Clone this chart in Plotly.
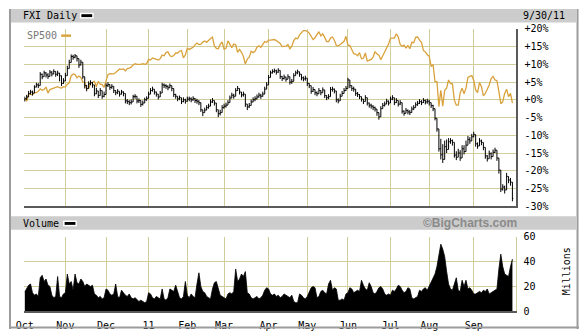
import pandas as pd
import plotly.graph_objects as go

# ---------------- data ----------------
holidays = ["2010-11-25", "2010-12-24", "2011-01-17", "2011-02-21",
            "2011-04-22", "2011-05-30", "2011-07-04", "2011-09-05"]
dates = [d for d in pd.bdate_range("2010-10-01", "2011-09-30")
         if d.strftime("%Y-%m-%d") not in holidays]

month_labels = ["Oct", "Nov", "Dec", "11", "Feb", "Mar", "Apr", "May", "Jun", "Jul", "Aug", "Sep"]

# FXI daily, % change vs 9/30/10
fxi_close = [
    0.3, 0.8, 1.8, 2.2, 1.9, 3.6, 4.2, 4.0, 7.2, 6.5, 7.6, 7.0, 6.6, 7.8, 7.3, 8.0, 7.2, 7.5, 6.8, 4.6, 5.3,
    6.8, 8.8, 10.5, 12.2, 12.0, 12.4, 11.6, 9.8, 10.6, 6.5, 4.0, 3.2, 4.5, 4.8, 4.2, 1.7, 2.5, 1.2, 2.6, 1.0, 1.5,
    4.0, 4.3, 3.5, 3.8, 2.6, 2.0, 2.4, 1.6, 2.2, 1.8, -0.3, -0.5, -0.8, -0.6, 0.9, 1.0, -0.3, -0.2, -1.3, -0.9, 0.0, 0.4,
    1.6, 2.6, 3.0, 2.2, 1.6, 0.8, 1.9, 4.2, 4.0, 3.8, 3.4, 4.0, 3.2, 1.5, 1.0, 0.3, 0.6, -0.5, 0.0, -0.4,
    0.2, 0.3, 0.0, 0.4, -0.2, -0.4, -0.8, -2.8, -3.6, -2.9, -2.2, -1.8, -0.6, -0.2, -0.9, -2.8, -3.9, -3.6, -2.2,
    -1.8, -1.5, -0.8, 0.5, 1.3, 1.0, 2.6, 3.2, 2.2, 1.4, 1.6, -1.2, -2.0, -1.6, -0.6, 0.0, 0.3, 0.8, 1.3, 1.0, 1.6, 3.0, 4.2,
    6.3, 7.6, 8.0, 8.2, 7.8, 8.3, 6.6, 6.0, 6.4, 5.8, 6.5, 5.0, 5.2, 6.8, 7.6, 7.9, 7.2, 6.2, 5.9, 6.1,
    4.6, 4.0, 2.4, 2.9, 2.0, 1.7, 2.6, 2.0, 2.8, 1.2, 0.6, 0.9, 2.9, 3.0, 2.5, 0.0, -0.3, 1.0, 1.8, 2.6, 3.2,
    5.6, 4.0, 3.2, 3.0, 1.8, 1.5, 0.9, 0.2, -0.5, 0.6, -0.9, -1.5, -1.8, -2.2, -2.6, -3.6, -4.8, -2.5, -1.6, -1.2, -0.4, -0.9,
    0.2, 0.6, -0.8, -0.2, -1.2, -0.8, -3.2, -3.8, -3.0, -3.4, -3.6, -2.6, -2.2, -1.4, -1.0, -0.5, -0.8, -0.2, -0.6, -0.4,
    -0.8, -1.6, -2.5, -5.2, -8.2, -13.8, -15.5, -16.8, -13.2, -14.0, -11.8, -11.5, -12.0, -15.6, -16.2, -15.0, -16.4, -13.8, -14.6, -12.8, -11.2, -11.6, -10.4,
    -9.8, -12.4, -13.0, -11.6, -12.0, -13.4, -15.8, -16.6, -15.2, -16.0, -14.8, -14.2, -16.4, -19.8, -25.2, -24.6, -25.4, -21.6, -22.6, -23.2, -27.8,
]
fxi_high = [
    0.9, 1.4, 2.5, 2.8, 2.6, 4.1, 4.8, 4.7, 7.8, 7.4, 8.2, 7.8, 7.5, 8.4, 8.1, 8.6, 8.0, 8.2, 7.6, 6.0, 6.1,
    7.6, 9.6, 11.3, 12.8, 12.7, 12.9, 12.3, 11.2, 11.3, 8.0, 5.4, 4.2, 5.2, 5.5, 5.0, 2.6, 3.4, 2.4, 3.3, 2.2, 2.3,
    4.6, 5.0, 4.2, 4.4, 3.3, 2.7, 3.0, 2.3, 2.8, 2.4, 0.5, 0.2, -0.1, 0.1, 1.4, 1.6, 0.4, 0.4, -0.6, -0.2, 0.6, 1.0,
    2.3, 3.3, 3.7, 2.9, 2.3, 1.6, 2.5, 4.8, 4.6, 4.4, 4.1, 4.6, 3.9, 2.6, 1.7, 1.0, 1.2, 0.3, 0.7, 0.3,
    0.9, 0.9, 0.7, 1.0, 0.5, 0.3, -0.1, -1.0, -2.8, -2.2, -1.5, -1.1, 0.1, 0.5, -0.2, -0.9, -3.0, -2.8, -1.5,
    -1.1, -0.8, -0.1, 1.2, 2.0, 1.7, 3.3, 3.9, 3.0, 2.1, 2.3, 0.2, -1.2, -0.9, 0.1, 0.7, 1.0, 1.5, 2.0, 1.7, 2.3, 3.7, 5.0,
    7.0, 8.2, 8.6, 8.8, 8.5, 8.9, 7.5, 6.7, 7.1, 6.5, 7.2, 5.8, 5.9, 7.5, 8.2, 8.5, 7.9, 7.0, 6.6, 6.8,
    5.5, 4.7, 3.2, 3.6, 2.7, 2.4, 3.3, 2.7, 3.5, 2.0, 1.3, 1.6, 3.6, 3.7, 3.2, 1.0, 0.4, 1.7, 2.5, 3.3, 3.9,
    6.2, 5.2, 3.9, 3.7, 2.5, 2.2, 1.6, 0.9, 0.2, 1.3, -0.2, -0.8, -1.1, -1.5, -1.9, -2.9, -3.6, -1.8, -0.9, -0.5, 0.3, -0.2,
    0.9, 1.3, 0.3, 0.5, -0.5, -0.1, -1.5, -3.0, -2.3, -2.7, -2.9, -1.9, -1.5, -0.7, -0.3, 0.2, -0.1, 0.5, 0.1, 0.3,
    0.0, -0.8, -1.4, -3.0, -5.5, -8.2, -11.0, -12.5, -11.5, -11.2, -10.8, -10.8, -11.2, -12.2, -14.5, -13.8, -14.2, -12.8, -12.8, -11.5, -10.2, -10.5, -9.6,
    -9.0, -10.2, -12.0, -10.8, -11.2, -12.2, -13.6, -15.6, -14.3, -14.8, -14.0, -13.5, -14.2, -16.6, -20.2, -23.8, -24.2, -20.6, -21.6, -22.0, -24.6,
]
fxi_low = [
    -0.5, 0.0, 0.9, 1.5, 1.2, 2.8, 3.5, 3.3, 6.2, 5.8, 6.8, 6.3, 5.9, 7.0, 6.6, 7.2, 6.5, 6.7, 5.2, 3.9, 4.5,
    5.9, 7.8, 9.6, 11.4, 11.3, 11.7, 10.8, 9.0, 9.7, 5.9, 3.2, 2.4, 3.6, 4.1, 3.4, 1.0, 1.6, 0.5, 1.8, 0.3, 0.7,
    3.2, 3.6, 2.8, 3.1, 1.9, 1.3, 1.6, 0.9, 1.5, 1.0, -1.0, -1.2, -1.5, -1.3, 0.2, 0.3, -1.0, -0.9, -2.0, -1.6, -0.6, -0.3,
    0.9, 1.8, 2.3, 1.5, 0.9, 0.1, 1.1, 3.4, 3.3, 3.1, 2.7, 3.3, 2.4, 0.8, 0.3, -0.4, -0.1, -1.2, -0.7, -1.1,
    -0.5, -0.4, -0.7, -0.3, -0.9, -1.1, -1.5, -3.4, -4.6, -3.6, -2.9, -2.5, -1.3, -0.9, -1.6, -3.5, -4.9, -4.4, -2.9,
    -2.5, -2.2, -1.5, -0.2, 0.6, 0.3, 1.9, 2.5, 1.5, 0.7, 0.9, -2.0, -2.9, -2.3, -1.3, -0.7, -0.4, 0.1, 0.6, 0.3, 0.9, 2.3, 3.5,
    5.5, 6.9, 7.4, 7.6, 7.1, 7.6, 5.9, 5.3, 5.7, 5.1, 5.8, 4.3, 4.5, 6.1, 6.9, 7.2, 6.5, 5.5, 5.2, 5.4,
    3.9, 3.3, 1.7, 2.2, 1.3, 1.0, 1.9, 1.3, 2.1, 0.5, -0.1, 0.2, 2.2, 2.3, 1.8, -0.7, -1.0, 0.3, 1.1, 1.9, 2.5,
    4.9, 3.3, 2.5, 2.3, 1.1, 0.8, 0.2, -0.5, -1.2, -0.1, -1.6, -2.2, -2.5, -2.9, -3.3, -4.5, -5.6, -3.2, -2.3, -1.9, -1.1, -1.6,
    -0.5, -0.1, -1.5, -0.9, -1.9, -1.5, -3.9, -4.5, -3.7, -4.1, -4.3, -3.3, -2.9, -2.1, -1.7, -1.2, -1.5, -0.9, -1.3, -1.1,
    -1.6, -2.3, -3.2, -5.8, -9.0, -14.6, -16.8, -17.8, -14.4, -15.0, -12.8, -12.4, -12.9, -16.3, -17.0, -16.0, -17.2, -14.6, -15.4, -13.6, -12.0, -12.4, -11.2,
    -10.6, -13.2, -13.8, -12.4, -12.8, -14.2, -16.6, -17.4, -16.0, -16.8, -15.6, -15.0, -17.2, -20.8, -26.0, -25.6, -26.4, -22.6, -23.5, -24.2, -28.6,
]

# SP500, % change vs 9/30/10
sp500 = [
    0.4, -0.4, 1.7, 1.6, 1.4, 2.0, 2.0, 2.4, 3.1, 2.7, 2.9, 3.6, 1.9, 2.9, 3.1, 3.4, 3.7, 3.7, 3.4, 3.3, 3.7,
    3.6, 4.4, 4.8, 6.8, 7.3, 7.1, 6.2, 6.7, 6.3, 5.0, 4.8, 3.1, 3.2, 4.7, 5.0, 5.2, 3.7, 5.2, 4.4, 4.3, 3.5,
    5.7, 7.1, 7.4, 7.3, 7.3, 7.7, 8.1, 8.7, 8.6, 8.7, 8.2, 8.8, 8.9, 9.2, 9.8, 10.2, 10.0, 9.9, 10.0, 10.2, 10.0, 10.2,
    11.4, 11.2, 11.8, 11.6, 11.4, 11.2, 11.6, 12.6, 12.4, 13.3, 13.5, 12.4, 12.2, 12.5, 13.2, 13.2, 13.7, 13.9, 11.8, 12.7,
    14.5, 14.2, 14.5, 14.8, 15.5, 16.0, 15.6, 15.7, 16.3, 16.6, 16.2, 16.9, 17.3, 17.7, 15.2, 14.5, 14.4, 15.6, 16.3,
    14.3, 14.5, 16.6, 15.7, 14.7, 15.7, 15.5, 13.4, 14.2, 13.4, 12.2, 10.1, 11.5, 12.0, 13.7, 13.3, 13.7, 14.8, 15.2, 14.8, 15.6, 16.4, 16.2,
    16.8, 16.8, 16.8, 17.0, 16.7, 16.2, 15.9, 15.0, 15.0, 15.1, 15.6, 14.4, 15.1, 16.7, 17.4, 17.2, 18.3, 19.0, 19.5, 19.5,
    19.3, 18.8, 18.0, 17.0, 17.5, 18.2, 19.2, 18.0, 18.6, 17.6, 16.4, 16.4, 17.4, 17.7, 16.8, 15.3, 15.2, 15.6, 16.1, 16.5, 17.9,
    15.4, 15.3, 14.2, 13.0, 12.9, 12.4, 13.3, 11.6, 11.7, 13.2, 10.9, 11.1, 11.4, 12.0, 13.6, 12.9, 12.6, 11.3, 12.4, 13.8, 14.8, 15.7,
    17.4, 17.3, 17.4, 18.6, 17.7, 15.6, 15.1, 15.4, 14.6, 15.3, 14.4, 16.2, 16.1, 17.6, 17.7, 16.8, 16.2, 13.9, 13.5, 12.7,
    12.3, 9.4, 9.9, 5.1, 5.1, -1.9, 2.7, -1.8, 2.7, 3.3, 5.6, 4.6, 4.5, -0.1, -1.5, -1.5, 1.9, 3.3, 1.7, 3.3, 6.3, 6.6, 6.8,
    5.5, 2.8, 2.0, 4.9, 3.7, 1.1, 1.8, 2.8, 4.2, 6.0, 6.6, 5.6, 5.4, 2.4, -1.1, -0.5, 1.8, 3.0, 0.9, 1.8, -0.9,
]

# FXI volume, millions of shares
volume = [
    15.5, 18, 21, 22, 15, 13, 14, 12, 27, 29, 24, 26, 21, 20, 13, 11, 12, 28, 12, 11, 14,
    15, 30, 22, 24, 17, 30, 23, 22, 26, 24, 20, 22, 21, 20, 21, 14, 13, 11, 12, 10, 11,
    18, 17, 14, 13, 14, 22, 12, 11, 17, 15, 13, 12, 14, 11, 10, 11, 9, 8, 9, 8, 7, 8,
    15, 14, 11, 10, 12, 11, 10, 18, 10, 9, 11, 18, 17, 16, 21, 15, 11, 10, 12, 24,
    13, 11, 14, 12, 11, 22, 31, 20, 16, 15, 12, 11, 10, 18, 23, 24, 19, 13, 12,
    11, 10, 14, 15, 14, 16, 34, 24, 26, 30, 28, 32, 15, 14, 11, 10, 11, 12, 10, 11, 13, 17, 19,
    18, 14, 13, 14, 12, 13, 11, 12, 14, 13, 12, 11, 13, 8, 7, 7, 14, 13, 11, 10,
    12, 16, 19, 20, 19, 11, 12, 16, 17, 15, 14, 22, 25, 17, 19, 18, 9, 9, 10, 9, 14,
    15, 19, 18, 15, 16, 17, 16, 25, 21, 18, 17, 23, 20, 15, 14, 16, 19, 20, 18, 14, 13, 14,
    13, 17, 16, 18, 21, 20, 17, 15, 16, 19, 18, 11, 10, 11, 12, 17, 16, 18, 19, 17,
    20, 24, 26, 30, 36, 45, 54, 50, 44, 32, 22, 18, 17, 22, 27, 17, 16, 25, 20, 25, 18, 19, 17,
    14, 14, 15, 16, 15, 17, 16, 18, 14, 15, 16, 17, 18, 34, 46, 36, 30, 29, 28, 36, 42,
]

pct_ticks = [20, 15, 10, 5, 0, -5, -10, -15, -20, -25, -30]
vol_ticks = [0, 20, 40, 60]

n = len(dates)
assert n == len(fxi_close) == len(fxi_high) == len(fxi_low) == len(sp500) == len(volume), \
    (n, len(fxi_close), len(fxi_high), len(fxi_low), len(sp500), len(volume))

idx = list(range(n))
month_idx = []
for i, d in enumerate(dates):
    if i == 0 or d.month != dates[i - 1].month:
        month_idx.append(i)

# ---------------- geometry helpers ----------------
W, H = 579, 335
def PX(p):
    return p / W
def PY(p):
    return 1 - p / H

GRID = "#d2ce9c"
ORANGE = "#d9a23c"
MONO = "DejaVu Sans Mono"

# ---------------- traces ----------------
bx, by = [], []
for i in idx:
    o = fxi_close[i - 1] if i > 0 else 0.0
    c = fxi_close[i]
    hi = max(fxi_high[i], o, c)
    lo = min(fxi_low[i], o, c)
    bx += [i, i, None, i - 0.5, i, None, i, i + 0.5, None]
    by += [lo, hi, None, o, o, None, c, c, None]

fig = go.Figure()
fig.add_trace(go.Scatter(x=idx, y=sp500, mode="lines",
                         line=dict(color=ORANGE, width=1.3),
                         xaxis="x", yaxis="y", hoverinfo="skip"))
fig.add_trace(go.Scatter(x=bx, y=by, mode="lines",
                         line=dict(color="black", width=1.0),
                         xaxis="x", yaxis="y", hoverinfo="skip", connectgaps=False))
fig.add_trace(go.Scatter(x=idx, y=volume, mode="lines", fill="tozeroy",
                         line=dict(color="black", width=0.8), fillcolor="black",
                         xaxis="x2", yaxis="y2", hoverinfo="skip"))

xr = [-0.25, 254.1]
common_x = dict(range=xr, tickmode="array", tickvals=month_idx, showgrid=True,
                gridcolor=GRID, gridwidth=1, zeroline=False, ticks="")

shapes = []
# outer frame
shapes.append(dict(type="line", xref="paper", yref="paper", x0=PX(1), x1=PX(1), y0=PY(3), y1=PY(335),
                   line=dict(color="#9c9c9c", width=2)))
shapes.append(dict(type="line", xref="paper", yref="paper", x0=PX(577.5), x1=PX(577.5), y0=PY(3), y1=PY(335),
                   line=dict(color="#9c9c9c", width=2)))
shapes.append(dict(type="line", xref="paper", yref="paper", x0=PX(0), x1=PX(579), y0=PY(333.5), y1=PY(333.5),
                   line=dict(color="#9c9c9c", width=2)))
# header bars
for y0, y1 in [(3, 17), (218, 232)]:
    shapes.append(dict(type="rect", xref="paper", yref="paper", x0=PX(2), x1=PX(576), y0=PY(y1), y1=PY(y0),
                       fillcolor="#cccccc", line=dict(width=0), layer="below"))
# swatches
for (x0, x1, y0, y1) in [(72, 86, 7, 13), (55, 69, 222.5, 228.5)]:
    shapes.append(dict(type="rect", xref="paper", yref="paper", x0=PX(x0), x1=PX(x1), y0=PY(y1), y1=PY(y0),
                       fillcolor="white", line=dict(width=0)))
    shapes.append(dict(type="rect", xref="paper", yref="paper", x0=PX(x0 + 1.5), x1=PX(x1 - 1.5),
                       y0=PY(y1 - 1.5), y1=PY(y0 + 1.5), fillcolor="black", line=dict(width=0)))
shapes.append(dict(type="rect", xref="paper", yref="paper", x0=PX(53), x1=PX(63), y0=PY(32), y1=PY(29.5),
                   fillcolor=ORANGE, line=dict(width=0)))

anns = [
    dict(text="FXI Daily", x=PX(13), y=PY(10), xanchor="left", yanchor="middle",
         font=dict(family=MONO, size=10, color="black")),
    dict(text="9/30/11", x=PX(566), y=PY(9.5), xanchor="right", yanchor="middle",
         font=dict(family=MONO, size=10, color="black")),
    dict(text="SP500", x=PX(17), y=PY(31), xanchor="left", yanchor="middle",
         font=dict(family=MONO, size=10, color="#777777")),
    dict(text="Volume", x=PX(13), y=PY(226), xanchor="left", yanchor="middle",
         font=dict(family=MONO, size=10, color="black")),
    dict(text="©BigCharts.com", x=PX(517), y=PY(225.5), xanchor="right", yanchor="middle",
         font=dict(family="Liberation Sans", size=12, color="#8a8a8a", weight="bold")),
    dict(text="Millions", x=PX(566), y=PY(275), xanchor="center", yanchor="middle", textangle=-90,
         font=dict(family=MONO, size=10, color="black")),
]
for a in anns:
    a.update(xref="paper", yref="paper", showarrow=False, borderpad=0)

fig.update_layout(
    width=W, height=H, margin=dict(l=0, r=0, t=0, b=0),
    paper_bgcolor="white", plot_bgcolor="white", showlegend=False,
    xaxis=dict(domain=[PX(15.5), PX(515.5)], anchor="y", showticklabels=False,
               showline=True, linecolor="#5a5a5a", linewidth=2, **common_x),
    yaxis=dict(domain=[PY(207.7), PY(23.7)], anchor="x", side="right", range=[-30, 20],
               tickmode="array", tickvals=pct_ticks,
               ticktext=[("+" if v >= 0 else "") + f"{v}%" for v in pct_ticks],
               showgrid=True, gridcolor=GRID, gridwidth=1, zeroline=False, ticks="",
               showline=True, linecolor="#5a5a5a", linewidth=2, ticklabelstandoff=4,
               tickfont=dict(family=MONO, size=10, color="black")),
    xaxis2=dict(domain=[PX(15.5), PX(515.5)], anchor="y2", showticklabels=True,
                ticktext=month_labels, tickfont=dict(family=MONO, size=10, color="black"),
                showline=True, linecolor="#5a5a5a", linewidth=2, ticklabelstandoff=4, **common_x),
    yaxis2=dict(domain=[PY(316.7), PY(239.3)], anchor="x2", side="right", range=[0, 60],
                tickmode="array", tickvals=vol_ticks, ticktext=[str(v) for v in vol_ticks],
                showgrid=True, gridcolor=GRID, gridwidth=1, zeroline=False, ticks="",
                showline=True, linecolor=GRID, linewidth=1, ticklabelstandoff=4,
                tickfont=dict(family=MONO, size=10, color="black")),
    shapes=shapes, annotations=anns,
)

fig.write_html("out.html", config={"displayModeBar": False})
